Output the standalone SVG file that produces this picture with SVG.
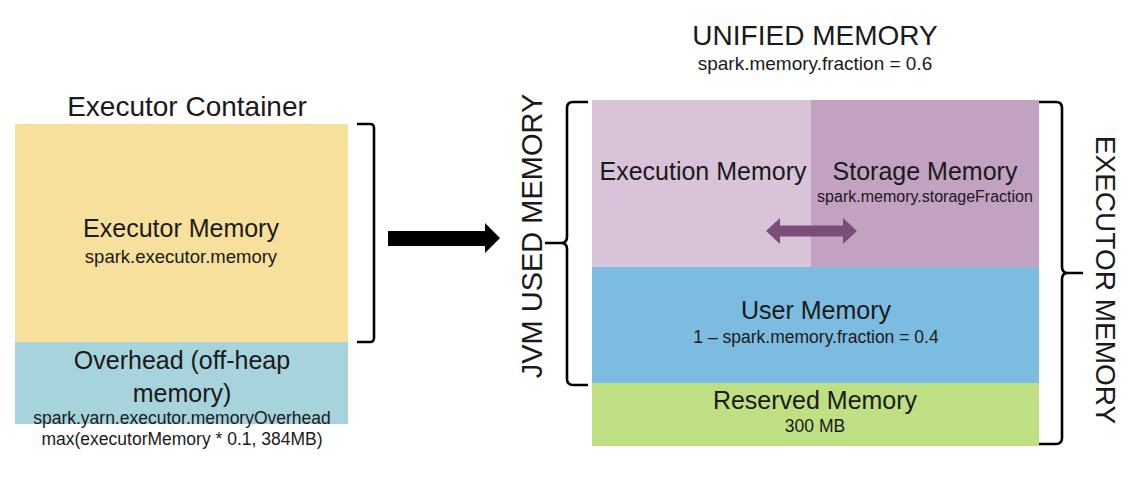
<svg xmlns="http://www.w3.org/2000/svg" width="1148" height="479" viewBox="0 0 1148 479">
<style>
text{font-family:"Liberation Sans",Arial,sans-serif;fill:#1a1a1a;text-anchor:middle}
.t28{font-size:28px}
.t25{font-size:25px}
.s18{font-size:18.5px}
.s17{font-size:17.5px}
.s19{font-size:19px}
.s16{font-size:16px}
.br{fill:none;stroke:#000;stroke-width:2.6;stroke-linejoin:round}
</style>
<rect width="1148" height="479" fill="#fff"/>
<g id="executor-container">
<text class="t28" x="187" y="116">Executor Container</text>
</g>
<g id="executor-memory">
<rect x="15" y="124" width="333" height="218" fill="#F7DF9C"/>
<text class="t25" x="181" y="237">Executor Memory</text>
<text class="s18" x="181" y="263">spark.executor.memory</text>
</g>
<g id="overhead">
<rect x="15" y="342" width="333" height="82" fill="#A6D3DC"/>
<text class="t25" x="182" y="369">Overhead (off-heap</text>
<text class="t25" x="182" y="402">memory)</text>
<text class="s17" x="182" y="424">spark.yarn.executor.memoryOverhead</text>
<text class="s17" x="182" y="445">max(executorMemory * 0.1, 384MB)</text>
</g>
<g id="unified-memory-label">
<text class="t28" x="815" y="45">UNIFIED MEMORY</text>
<text class="s19" x="815" y="70">spark.memory.fraction = 0.6</text>
</g>
<g id="execution-memory">
<rect x="592" y="100" width="219" height="167" fill="#D8C3D9"/>
<text class="t25" x="703" y="180">Execution Memory</text>
</g>
<g id="storage-memory">
<rect x="811" y="100" width="228" height="167" fill="#C3A1C0"/>
<text class="t25" x="925" y="180">Storage Memory</text>
<text class="s16" x="925" y="202">spark.memory.storageFraction</text>
</g>
<g id="user-memory">
<rect x="592" y="267" width="447" height="116" fill="#7CBCE0"/>
<text class="t25" x="816" y="319">User Memory</text>
<text class="s17" x="816" y="343">1 – spark.memory.fraction = 0.4</text>
</g>
<g id="reserved-memory">
<rect x="592" y="383" width="447" height="63" fill="#BEDF82"/>
<text class="t25" x="815" y="409">Reserved Memory</text>
<text class="s17" x="815" y="432">300 MB</text>
</g>
<g id="jvm-used-memory-label">
<text class="t28" transform="translate(542 236) rotate(-90)" style="font-size:29px">JVM USED MEMORY</text>
</g>
<g id="executor-memory-label">
<text class="t28" transform="translate(1096 280) rotate(90)">EXECUTOR MEMORY</text>
</g>
<g id="connectors">
<path class="br" d="M357,124 H370 Q374,124 374,128 V338 Q374,342 370,342 H357"/>
<path d="M388,231 H485 V223 L500,238 L485,253 V246 H388 Z" fill="#000"/>
<path class="br" d="M588,102 H573 Q567,102 567,108 V237 Q567,243 561,243 H545 M561,243 Q567,243 567,249 V379 Q567,385 573,385 H588"/>
<path class="br" d="M1039,102 H1056 Q1062,102 1062,108 V267 Q1062,273 1068,273 H1083 M1068,273 Q1062,273 1062,279 V438 Q1062,444 1056,444 H1039"/>
<path d="M766,231 L780,218 V225.5 H843 V218 L857,231 L843,244 V236.5 H780 V244 Z" fill="#7A4E78"/>
</g>
</svg>
